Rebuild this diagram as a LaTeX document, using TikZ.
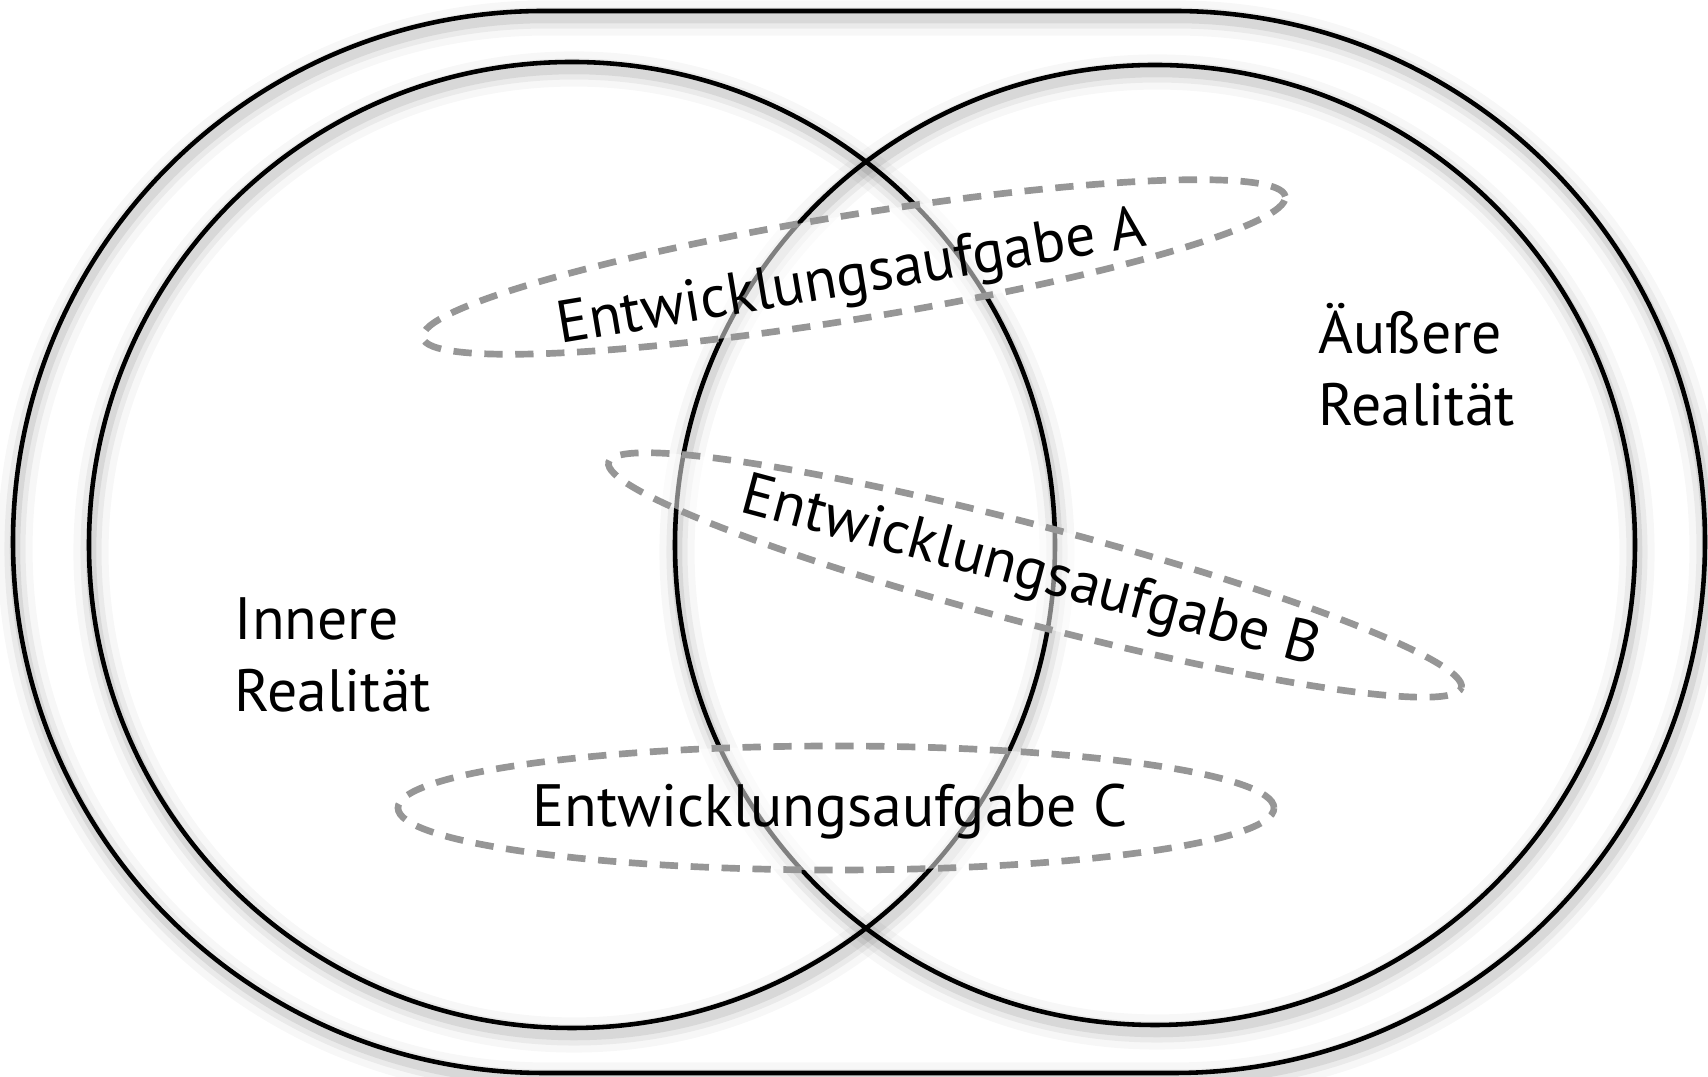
\documentclass[tikz,border=0pt]{standalone}
\usepackage{fontspec}
\setmainfont{PT Sans}
\usetikzlibrary{shapes.geometric}
\definecolor{strichgrau}{RGB}{150,150,150}
\newcommand{\schatten}[1]{
    \foreach \w/\o in {10pt/0.03, 6pt/0.05, 3pt/0.08}
        \draw[line width=\w, draw opacity=\o, shift={(0.02,-0.07)}] #1;
}
\tikzset{
    rand/.style={line width=1.3pt, black},
    aufgabe/.style={ellipse, draw=strichgrau, line width=1.9pt, dash pattern=on 5.2pt off 3.6pt,
        fill=white, fill opacity=0.5, inner sep=0pt},
    beschriftung/.style={font=\fontsize{17}{20.5}\selectfont, text=black}
}

\begin{document}
\begin{tikzpicture}
    \useasboundingbox (0,0) rectangle (17.08,10.77);
    % Schatten
    \schatten{(5.44,10.66) -- (11.74,10.66) arc[start angle=90, end angle=-90, radius=5.31] -- (5.44,0.04) arc[start angle=270, end angle=90, radius=5.31] -- cycle}
    \schatten{(5.72,5.32) circle (4.83)}
    \schatten{(11.55,5.32) circle (4.80)}
    % Rahmen und Kreise
    \draw[rand] (5.44,10.66) -- (11.74,10.66) arc[start angle=90, end angle=-90, radius=5.31] -- (5.44,0.04) arc[start angle=270, end angle=90, radius=5.31] -- cycle;
    \draw[rand] (5.72,5.32) circle (4.83);
    \draw[rand] (11.55,5.32) circle (4.80);
    % Entwicklungsaufgaben
    \node[aufgabe, rotate=9.3, minimum width=8.74cm, minimum height=1.04cm] (ringA) at (8.54,8.10) {};
    \node[aufgabe, rotate=-14.8, minimum width=8.82cm, minimum height=0.98cm] (ringB) at (10.35,5.02) {};
    \node[aufgabe, minimum width=8.76cm, minimum height=1.24cm] (ringC) at (8.36,2.69) {};
    \node[beschriftung, rotate=9.5] (textA) at (8.52,7.97) {Entwicklungsaufgabe A};
    \node[beschriftung, rotate=-15] (textB) at (10.30,5.03) {Entwicklungsaufgabe B};
    \node[beschriftung] (textC) at (8.30,2.65) {Entwicklungsaufgabe C};
    % Realitaeten
    \node[beschriftung, anchor=west, align=left, inner sep=0pt] (innen) at (2.34,4.22) {Innere\\Realität};
    \node[beschriftung, anchor=west, align=left, inner sep=0pt] (aussen) at (13.18,7.12) {Äußere\\Realität};
\end{tikzpicture}
\end{document}
